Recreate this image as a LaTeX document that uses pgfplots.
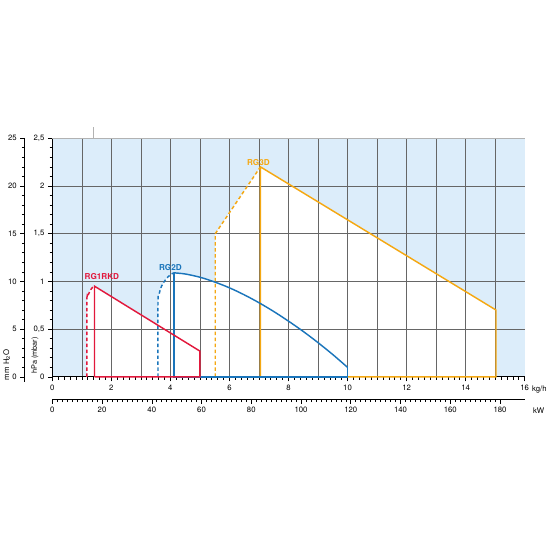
\documentclass[border=0pt]{standalone}
\usepackage{fontspec}
\setmainfont{TeX Gyre Heros}
\usepackage{pgfplots}
\pgfplotsset{compat=1.18}

\definecolor{rgred}{HTML}{E2183C}
\definecolor{rgblue}{HTML}{1A75BB}
\definecolor{rgorange}{HTML}{F5A812}
\definecolor{bgblue}{HTML}{DCEDFA}
\definecolor{gridgray}{HTML}{666666}

\pgfplotsset{
  scalebase/.style={
    scale only axis, clip=false,
    tick align=outside,
    major tick length=4.5pt, minor tick length=2.8pt,
    tick style={black, line width=0.6pt},
    axis line style={black, line width=1.1pt, -},
    tick label style={font=\fontsize{7.8}{9}\selectfont},
    /pgf/number format/assume math mode=true,
  },
  curve/.style={line width=1.45pt},
  dashcurve/.style={line width=1.45pt, dash pattern=on 3.5pt off 2.5pt},
}

\begin{document}
\begin{tikzpicture}[font=\fontsize{7.8}{9}\selectfont]

% main chart, pressure in hPa against flow in kg/h
\begin{axis}[
  scalebase, set layers,
  at={(0,0)}, anchor=south west,
  width=475pt, height=240pt,
  xmin=0, xmax=16, ymin=0, ymax=2.5,
  axis x line*=bottom, axis y line*=left,
  xtick={0,2,...,16}, minor x tick num=9,
  ytick={0,0.5,...,2.5}, yticklabels={0,{0,5},1,{1,5},2,{2,5}}, minor y tick num=4,
  extra x ticks={1,2,...,15}, extra x tick labels={},
  extra x tick style={grid=major, major tick length=0pt},
  extra y ticks={0.5,1,1.5,2}, extra y tick labels={},
  extra y tick style={grid=major, major tick length=0pt},
  grid style={draw=gridgray, line width=0.6pt},
]
% background and white operating areas
\addplot[draw=none, fill=bgblue, on layer=axis background] coordinates {(0,2.5)(16,2.5)} \closedcycle;
\addplot[draw=none, fill=white, on layer=axis background] coordinates {
  (1.17,0)(1.17,0.78)(1.21,0.85)(1.30,0.915)(1.43,0.95)(5.0,0.27)(5.0,0)} \closedcycle;
\addplot[draw=none, fill=white, on layer=axis background] coordinates {
  (3.58,0)(3.58,0.78)(3.62,0.87)(3.70,0.95)(3.84,1.02)(4.0,1.07)(4.12,1.09)
  (4.5,1.078)(5.0,1.044)(5.5,0.994)(6.0,0.933)(6.5,0.860)(7.0,0.777)(7.5,0.685)
  (8.0,0.584)(8.5,0.476)(9.0,0.359)(9.5,0.234)(10.0,0.10)(10.0,0)} \closedcycle;
\addplot[draw=none, fill=white, on layer=axis background] coordinates {
  (5.52,0)(5.52,1.5)(7.05,2.2)(15.03,0.70)(15.03,0)} \closedcycle;

% RG3D
\addplot[rgorange, curve] coordinates {(7.05,0)(7.05,2.2)(15.03,0.70)(15.03,0)(7.05,0)};
\addplot[rgorange, dashcurve] coordinates {(5.52,0)(5.52,1.5)(7.05,2.2)};
% RG2D
\addplot[rgblue, curve, smooth] coordinates {
  (4.12,1.09)(4.5,1.078)(5.0,1.044)(5.5,0.994)(6.0,0.933)(6.5,0.860)(7.0,0.777)(7.5,0.685)
  (8.0,0.584)(8.5,0.476)(9.0,0.359)(9.5,0.234)(10.0,0.10)};
\addplot[rgblue, curve] coordinates {(10.0,0.10)(10.0,0)(4.12,0)(4.12,1.09)};
\addplot[rgblue, dashcurve, smooth] coordinates {(3.58,0)(3.58,0.78)(3.62,0.87)(3.70,0.95)(3.84,1.02)(4.0,1.07)(4.12,1.09)};
% RG1RKD
\addplot[rgred, curve] coordinates {(1.43,0)(1.43,0.95)(5.0,0.27)(5.0,0)(1.43,0)};
\addplot[rgred, dashcurve, smooth] coordinates {(1.17,0)(1.17,0.78)(1.20,0.84)(1.26,0.89)(1.34,0.93)(1.43,0.95)};

\node[text=rgred, font=\fontsize{8.2}{9}\selectfont\bfseries] at (axis cs:1.68,1.05) {RG1RKD};
\node[text=rgblue, font=\fontsize{8.2}{9}\selectfont\bfseries] at (axis cs:4.0,1.15) {RG2D};
\node[text=rgorange, font=\fontsize{8.2}{9}\selectfont\bfseries] at (axis cs:6.98,2.25) {RG3D};

\draw[black!30, line width=0.6pt] (axis cs:0,2.5) -- (axis cs:16,2.5);
\draw[black!30, line width=1pt] (axis cs:1.4,2.5) -- (axis cs:1.4,2.615);
\node[anchor=west] at ([xshift=4pt,yshift=-13pt]rel axis cs:1,0) {kg/h};
\node[rotate=90, font=\fontsize{7.4}{8}\selectfont] at ([xshift=-17.5pt]rel axis cs:0,0.09) {hPa (mbar)};
\end{axis}

% kW scale
\begin{axis}[
  scalebase,
  at={(0,-22.7pt)}, anchor=south west,
  width=475pt, height=10pt,
  xmin=0, xmax=189.9, ymin=0, ymax=1,
  hide y axis, axis x line*=bottom,
  xtick={0,20,...,180}, minor x tick num=9,
]
\addplot[draw=none] coordinates {(0,0)(189.9,1)};
\node[anchor=west] at ([xshift=5pt,yshift=-11pt]rel axis cs:1,0) {kW};
\end{axis}

% mm H2O scale
\begin{axis}[
  scalebase,
  at={(-27.8pt,0)}, anchor=south west,
  width=10pt, height=240pt,
  xmin=0, xmax=1, ymin=0, ymax=25,
  hide x axis, axis y line*=left,
  axis line style={shorten <=-5pt},
  ytick={0,5,...,25}, minor y tick num=4,
]
\addplot[draw=none] coordinates {(0,0)(1,25)};
\node[rotate=90] at ([xshift=-18pt]rel axis cs:0,0.05) {mm H\textsubscript{2}O};
\end{axis}

% page frame with the reference's white margins
\path (-51pt,-171pt) rectangle (499pt,379pt);
\end{tikzpicture}
\end{document}
